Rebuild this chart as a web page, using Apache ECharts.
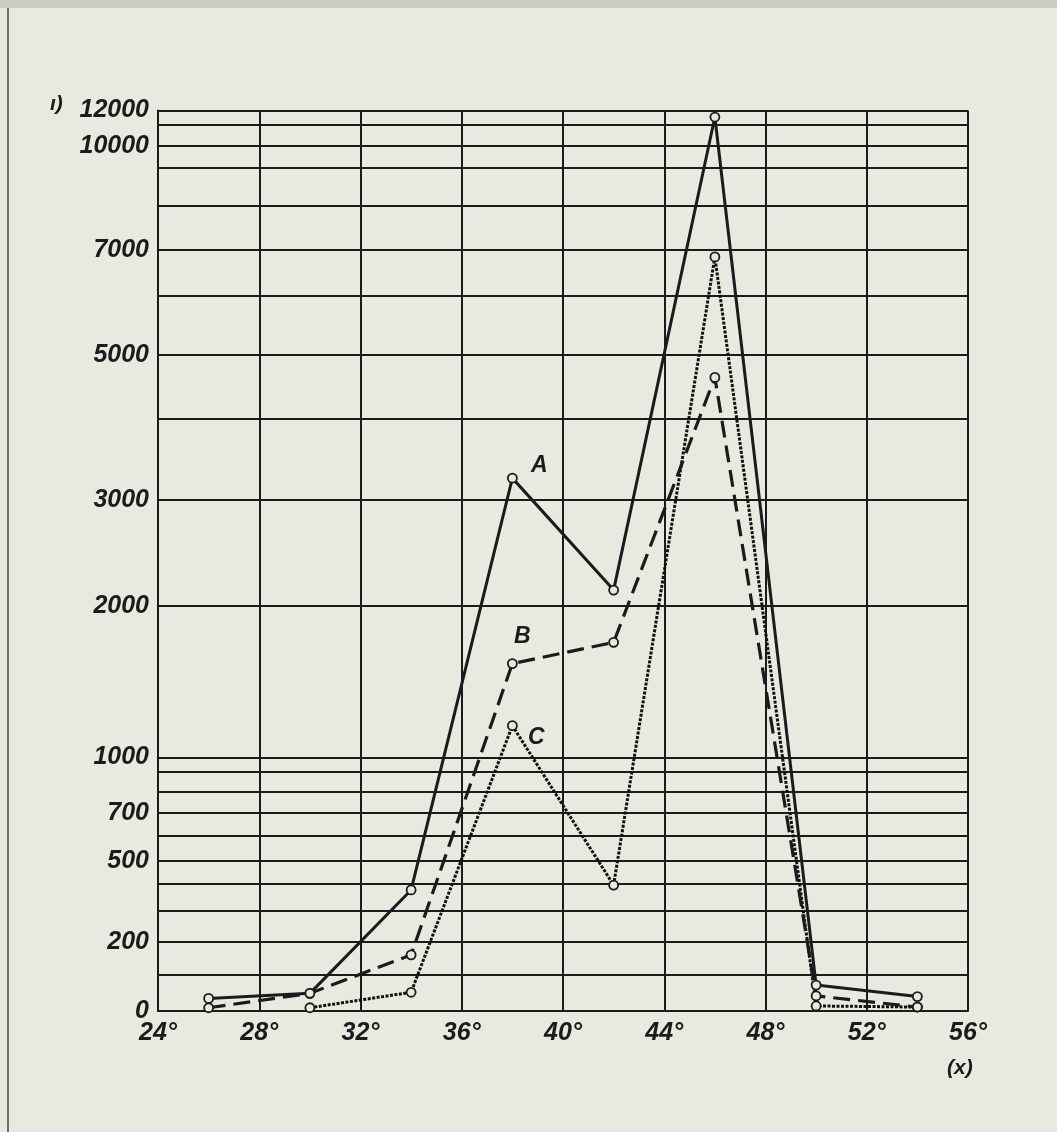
<!DOCTYPE html>
<html><head><meta charset="utf-8">
<script src="https://cdn.jsdelivr.net/npm/echarts@6/dist/echarts.min.js"></script>
<style>html,body{margin:0;padding:0;background:#e7eade;} #c{width:1057px;height:1132px;}</style>
</head><body><div id="c"></div>
<script>
// ---- data ----
const xValues = [26, 30, 34, 38, 42, 46, 50, 54];
const seriesA = [35, 49, 378, 3270, 2150, 11550, 72, 40];
const seriesB = [9, 49, 161, 1620, 1760, 4650, 42, 11];
const seriesC = [null, 9, 52, 1210, 396, 6850, 14, 11];
const xTickValues = [24, 28, 32, 36, 40, 44, 48, 52, 56];
const yGridValues = [0,100,200,300,400,500,600,700,800,900,1000,2000,3000,4000,5000,6000,7000,8000,9000,10000,11000,12000];
const yLabelValues = [0, 200, 500, 700, 1000, 2000, 3000, 5000, 7000, 10000, 12000];
// the printed y scale is non-linear: relative position of each grid value along the axis
const yScaleStops = [0,36,69,100,127,150,175,198,219,239,253.5,405,511,592,656,715,761,805,843,865,886,900.5];

function toScale(v) {
  if (v == null) return null;
  for (let i = 1; i < yGridValues.length; i++) {
    if (v <= yGridValues[i]) {
      const a = yGridValues[i-1], b = yGridValues[i];
      return yScaleStops[i-1] + (v - a) / (b - a) * (yScaleStops[i] - yScaleStops[i-1]);
    }
  }
  return yScaleStops[yScaleStops.length - 1];
}
const labelByPos = {};
yGridValues.forEach((v) => { labelByPos[toScale(v).toFixed(2)] = v; });

const INK = '#1b1b1b';
const PAPER = '#e7eade';
const FONT = '"Liberation Sans", Arial, sans-serif';

function mk(vals, lab) {
  return xValues.map((x, i) => {
    const item = { value: [x, toScale(vals[i])] };
    if (lab && x === 38) item.label = lab;
    return item;
  });
}
function nameLabel(name, offset) {
  return { show: true, position: 'inside', offset: offset, formatter: name,
    fontFamily: FONT, fontStyle: 'italic', fontWeight: 'bold', fontSize: 23, color: INK };
}

const chart = echarts.init(document.getElementById('c'), null, { renderer: 'canvas' });
chart.setOption({
  backgroundColor: PAPER,
  animation: false,
  grid: { left: 158, right: 89, top: 110.5, bottom: 121, containLabel: false },
  xAxis: {
    type: 'value', min: 24, max: 56, interval: 4,
    axisLine: { show: true, lineStyle: { color: INK, width: 2 } },
    axisTick: { show: false },
    splitLine: { show: true, lineStyle: { color: INK, width: 2 } },
    axisLabel: { margin: 10, fontFamily: FONT, fontStyle: 'italic', fontWeight: 'bold', fontSize: 25, color: INK,
      formatter: (v) => v + '°' }
  },
  yAxis: {
    type: 'value', min: 0, max: yScaleStops[yScaleStops.length - 1],
    axisLine: { show: true, lineStyle: { color: INK, width: 2 } },
    axisTick: { show: false, customValues: yGridValues.map(toScale) },
    splitLine: { show: true, lineStyle: { color: INK, width: 2 } },
    axisLabel: { margin: 9, fontFamily: FONT, fontStyle: 'italic', fontWeight: 'bold', fontSize: 25, color: INK,
      customValues: yLabelValues.map(toScale),
      formatter: (p) => { const k = Number(p).toFixed(2); return labelByPos[k] != null ? String(labelByPos[k]) : ''; } }
  },
  series: [
    { name: 'A', type: 'line', data: mk(seriesA, nameLabel('A', [27, -12])),
      symbol: 'circle', symbolSize: 9, showAllSymbol: true, z: 5,
      itemStyle: { color: PAPER, borderColor: INK, borderWidth: 1.8 },
      lineStyle: { color: INK, width: 3, type: 'solid' } },
    { name: 'B', type: 'line', data: mk(seriesB, nameLabel('B', [10, -27])),
      symbol: 'circle', symbolSize: 9, showAllSymbol: true, z: 4,
      itemStyle: { color: PAPER, borderColor: INK, borderWidth: 1.8 },
      lineStyle: { color: INK, width: 3.2, type: [17, 8] } },
    { name: 'C', type: 'line', data: mk(seriesC, nameLabel('C', [24, 12])),
      symbol: 'circle', symbolSize: 9, showAllSymbol: true, connectNulls: false, z: 3,
      itemStyle: { color: PAPER, borderColor: INK, borderWidth: 1.8 },
      lineStyle: { color: '#111111', width: 3, type: [3, 1.5] } }
  ],
  graphic: [
    { type: 'text', left: 50, top: 94, style: { text: 'ı)', font: 'italic bold 21px "Liberation Sans", Arial, sans-serif', fill: INK } },
    { type: 'text', left: 947, top: 1058, style: { text: '(x)', font: 'italic bold 21px "Liberation Sans", Arial, sans-serif', fill: INK } },
    { type: 'line', shape: { x1: 8, y1: 8, x2: 8, y2: 1132 }, style: { stroke: '#6d6f66', lineWidth: 2 } },
    { type: 'rect', shape: { x: 0, y: 0, width: 1057, height: 8 }, style: { fill: '#c9ccc2' } }
  ]
});
</script>
</body></html>
